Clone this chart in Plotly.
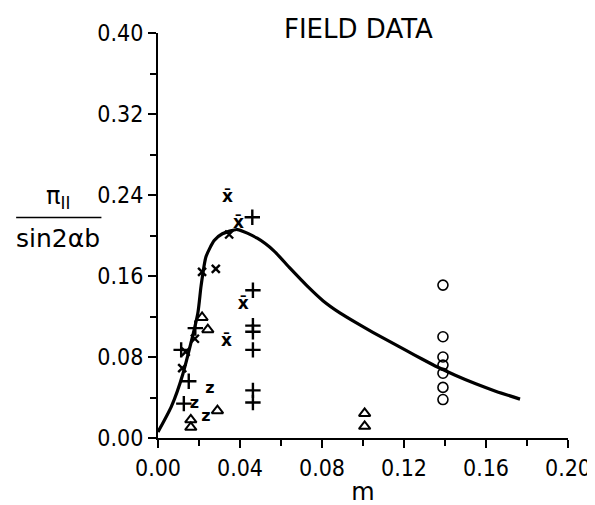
import plotly.graph_objects as go

# Theoretical curve
curve_m = [0.0, 0.0065, 0.0121, 0.0194, 0.021, 0.0234, 0.0274, 0.0314, 0.0387, 0.0484,
           0.0564, 0.0645, 0.0726, 0.0806, 0.0887, 0.0968, 0.1048, 0.1129, 0.1210,
           0.129, 0.1363, 0.145, 0.155, 0.165, 0.1766]
curve_v = [0.006, 0.031, 0.063, 0.123, 0.150, 0.179, 0.195, 0.2017, 0.2059, 0.1973,
           0.1851, 0.1675, 0.1505, 0.1354, 0.1236, 0.1137, 0.1044, 0.0954, 0.0865,
           0.0778, 0.0701, 0.062, 0.0535, 0.046, 0.0384]

# Field data by symbol
x_m = [0.0118, 0.018, 0.0215, 0.0282, 0.0347, 0.0135]
x_v = [0.069, 0.098, 0.164, 0.167, 0.201, 0.085]

xbar_m = [0.0339, 0.0392, 0.0416, 0.0334]
xbar_v = [0.237, 0.2116, 0.1316, 0.0948]

plus_m = [0.046, 0.0463, 0.0463, 0.0463, 0.0463, 0.0463, 0.0463, 0.0182, 0.0113, 0.015, 0.0126]
plus_v = [0.218, 0.146, 0.111, 0.105, 0.087, 0.047, 0.035, 0.1085, 0.087, 0.056, 0.034]

z_m = [0.0178, 0.0253, 0.0234]
z_v = [0.034, 0.048, 0.021]

tri_m = [0.0215, 0.0243, 0.029, 0.016, 0.016, 0.1008, 0.1008]
tri_v = [0.119, 0.107, 0.027, 0.018, 0.0105, 0.0243, 0.0115]

circ_m = [0.139] * 7
circ_v = [0.151, 0.100, 0.080, 0.072, 0.064, 0.050, 0.038]

x_ticks = [0.00, 0.04, 0.08, 0.12, 0.16, 0.20]
y_ticks = [0.00, 0.08, 0.16, 0.24, 0.32, 0.40]

fig = go.Figure()

fig.add_trace(go.Scatter(x=curve_m, y=curve_v, mode="lines",
                         line=dict(color="black", width=3.2, shape="spline", smoothing=0.6),
                         hoverinfo="skip"))
fig.add_trace(go.Scatter(x=x_m, y=x_v, mode="markers",
                         marker=dict(symbol="x-thin-open", size=8, color="black",
                                     line=dict(color="black", width=2.4))))
fig.add_trace(go.Scatter(x=xbar_m, y=xbar_v, mode="text", text=["x̄"] * len(xbar_m),
                         textposition="middle center",
                         textfont=dict(family="DejaVu Sans", size=17, color="black", weight="bold")))
fig.add_trace(go.Scatter(x=plus_m, y=plus_v, mode="markers",
                         marker=dict(symbol="cross-thin-open", size=11, color="black",
                                     line=dict(color="black", width=2.4))))
fig.add_trace(go.Scatter(x=z_m, y=z_v, mode="text", text=["z"] * len(z_m),
                         textposition="middle center",
                         textfont=dict(family="DejaVu Sans", size=16, color="black", weight="bold")))
fig.add_trace(go.Scatter(x=tri_m, y=tri_v, mode="markers",
                         marker=dict(symbol="triangle-up-open", size=10, color="black",
                                     line=dict(color="black", width=2))))
fig.add_trace(go.Scatter(x=circ_m, y=circ_v, mode="markers",
                         marker=dict(symbol="circle-open", size=10, color="black",
                                     line=dict(color="black", width=1.6))))

tick_font = dict(family="DejaVu Sans Condensed, DejaVu Sans", size=23, color="black")

fig.update_layout(
    width=595, height=505,
    margin=dict(l=150, r=26, t=19, b=69),
    paper_bgcolor="white", plot_bgcolor="white",
    showlegend=False,
    xaxis=dict(range=[0, 0.2], tickvals=x_ticks, tickformat=".2f",
               ticks="outside", ticklen=8, tickwidth=1.5, tickcolor="black",
               minor=dict(dtick=0.02, tick0=0, ticks="outside", ticklen=6, tickwidth=1.5, tickcolor="black"),
               showline=True, linecolor="black", linewidth=2, showgrid=False, zeroline=False,
               tickfont=tick_font,
               title=dict(text="m", font=dict(family="DejaVu Sans", size=24, color="black"), standoff=4)),
    yaxis=dict(range=[0, 0.4], tickvals=y_ticks, tickformat=".2f",
               ticks="outside", ticklen=8, tickwidth=1.5, tickcolor="black",
               minor=dict(dtick=0.04, tick0=0, ticks="outside", ticklen=6, tickwidth=1.5, tickcolor="black"),
               showline=True, linecolor="black", linewidth=2, showgrid=False, zeroline=False,
               tickfont=tick_font),
    annotations=[
        dict(text="FIELD DATA", xref="paper", yref="paper", x=0.49, y=1.01,
             xanchor="center", yanchor="middle", showarrow=False,
             font=dict(family="DejaVu Sans", size=26, color="black")),
        dict(text="π<sub>II</sub>", xref="paper", yref="paper", x=-0.245, y=0.55,
             xanchor="center", yanchor="bottom", showarrow=False,
             font=dict(family="DejaVu Sans", size=24, color="black")),
        dict(text="sin2αb", xref="paper", yref="paper", x=-0.245, y=0.533,
             xanchor="center", yanchor="top", showarrow=False,
             font=dict(family="DejaVu Sans", size=25, color="black")),
    ],
    shapes=[
        dict(type="line", xref="paper", yref="paper", x0=-0.346, x1=-0.138, y0=0.5445, y1=0.5445,
             line=dict(color="black", width=1.5)),
    ],
)

fig.write_html("out.html")
